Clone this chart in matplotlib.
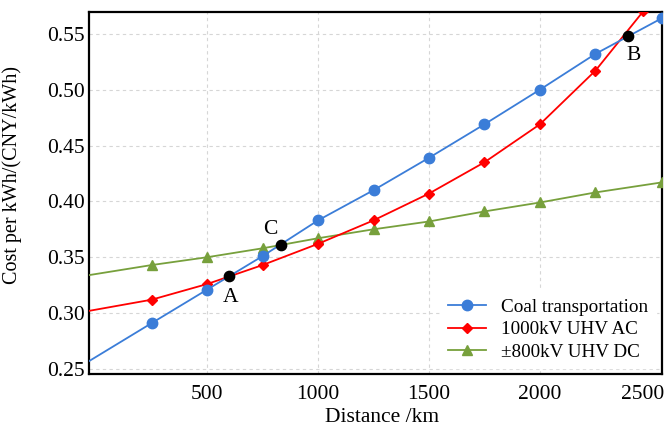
import matplotlib
matplotlib.use('Agg')
import matplotlib.pyplot as plt
from matplotlib.transforms import ScaledTranslation

plt.rcParams['font.family'] = ['Liberation Serif', 'DejaVu Serif']

# distance (km) -- first value is the left edge of the axis
coal_x = [-32, 250, 500, 750, 1000, 1250, 1500, 1750, 2000, 2250, 2550]
coal_y = [0.257, 0.291, 0.321, 0.351, 0.383, 0.410, 0.439, 0.469, 0.500, 0.532, 0.564]

ac_x = [-32, 250, 500, 750, 1000, 1250, 1500, 1750, 2000, 2250, 2465]
ac_y = [0.302, 0.312, 0.326, 0.343, 0.362, 0.383, 0.407, 0.435, 0.469, 0.517, 0.570]

dc_x = [-32, 250, 500, 750, 1000, 1250, 1500, 1750, 2000, 2250, 2550]
dc_y = [0.334, 0.343, 0.350, 0.358, 0.367, 0.375, 0.382, 0.391, 0.399, 0.408, 0.417]

# crossing points
cross_names = ['A', 'B', 'C']
cross_x = [598, 2395, 833]
cross_y = [0.333, 0.548, 0.361]

x_ticks = [500, 1000, 1500, 2000, 2500]
y_ticks = [0.25, 0.30, 0.35, 0.40, 0.45, 0.50, 0.55]

fig = plt.figure(figsize=(6.68, 4.29), dpi=100)
ax = fig.add_axes([89/668, 1 - 374/429, (662 - 89)/668, (374 - 12)/429])

ax.plot(dc_x, dc_y, color='#77a03c', lw=1.3, marker='^', ms=7, markevery=list(range(1, len(dc_x))),
        label='\u00b1800kV UHV DC', zorder=3)
ax.plot(ac_x, ac_y, color='#ff0000', lw=1.3, marker='D', ms=5.5, markevery=list(range(1, len(ac_x))),
        label='1000kV UHV AC', zorder=4)
ax.plot(coal_x, coal_y, color='#3b7dd8', lw=1.3, marker='o', ms=7.5, markevery=list(range(1, len(coal_x))),
        label='Coal transportation', zorder=5)

ax.scatter(cross_x, cross_y, s=55, color='black', zorder=6)
offsets = {'A': (1, -15), 'B': (4, -14), 'C': (-8, 11)}
for n, x, y in zip(cross_names, cross_x, cross_y):
    ax.annotate(n, (x, y), xytext=offsets[n], textcoords='offset points',
                ha='center', va='center', fontsize=15.5, zorder=7)

ax.set_xlim(-32, 2550)
ax.set_ylim(0.2455, 0.5695)
ax.set_xticks(x_ticks)
ax.set_yticks(y_ticks)
ax.set_yticklabels(['%.2f' % v for v in y_ticks])
ax.tick_params(length=0, labelsize=15.5)
ax.tick_params(axis='x', pad=8)
ax.tick_params(axis='y', pad=3)

# grid: horizontal at every y tick, vertical only inside the plot
ax.grid(True, axis='y', color='#d6d6d6', ls=(0, (3, 3)), lw=0.8)
for xv in x_ticks[:-1]:
    ax.axvline(xv, color='#d6d6d6', ls=(0, (3, 3)), lw=0.8, zorder=0.5)
for s in ax.spines.values():
    s.set_linewidth(1.6)

# last x label sits a little left so it stays inside the figure
last = ax.get_xticklabels()[-1]
last.set_transform(last.get_transform() + ScaledTranslation(-8/100, 0, fig.dpi_scale_trans))

ax.set_xlabel('Distance /km', fontsize=15.5)
ax.xaxis.set_label_coords(0.512, -0.095)
ax.set_ylabel('Cost per kWh/(CNY/kWh)', fontsize=14.5)
ax.yaxis.set_label_coords(-0.117, 0.55)

h, l = ax.get_legend_handles_labels()
leg = ax.legend(h[::-1], l[::-1], loc='lower right', fontsize=13.8, frameon=True,
                handlelength=2.0, handletextpad=0.8, labelspacing=0.25,
                borderaxespad=0.3, fancybox=False)
leg.get_frame().set_edgecolor('white')
leg.get_frame().set_facecolor('white')
leg.get_frame().set_alpha(1)
leg.set_zorder(8)

fig.savefig('out.png', dpi=100)
